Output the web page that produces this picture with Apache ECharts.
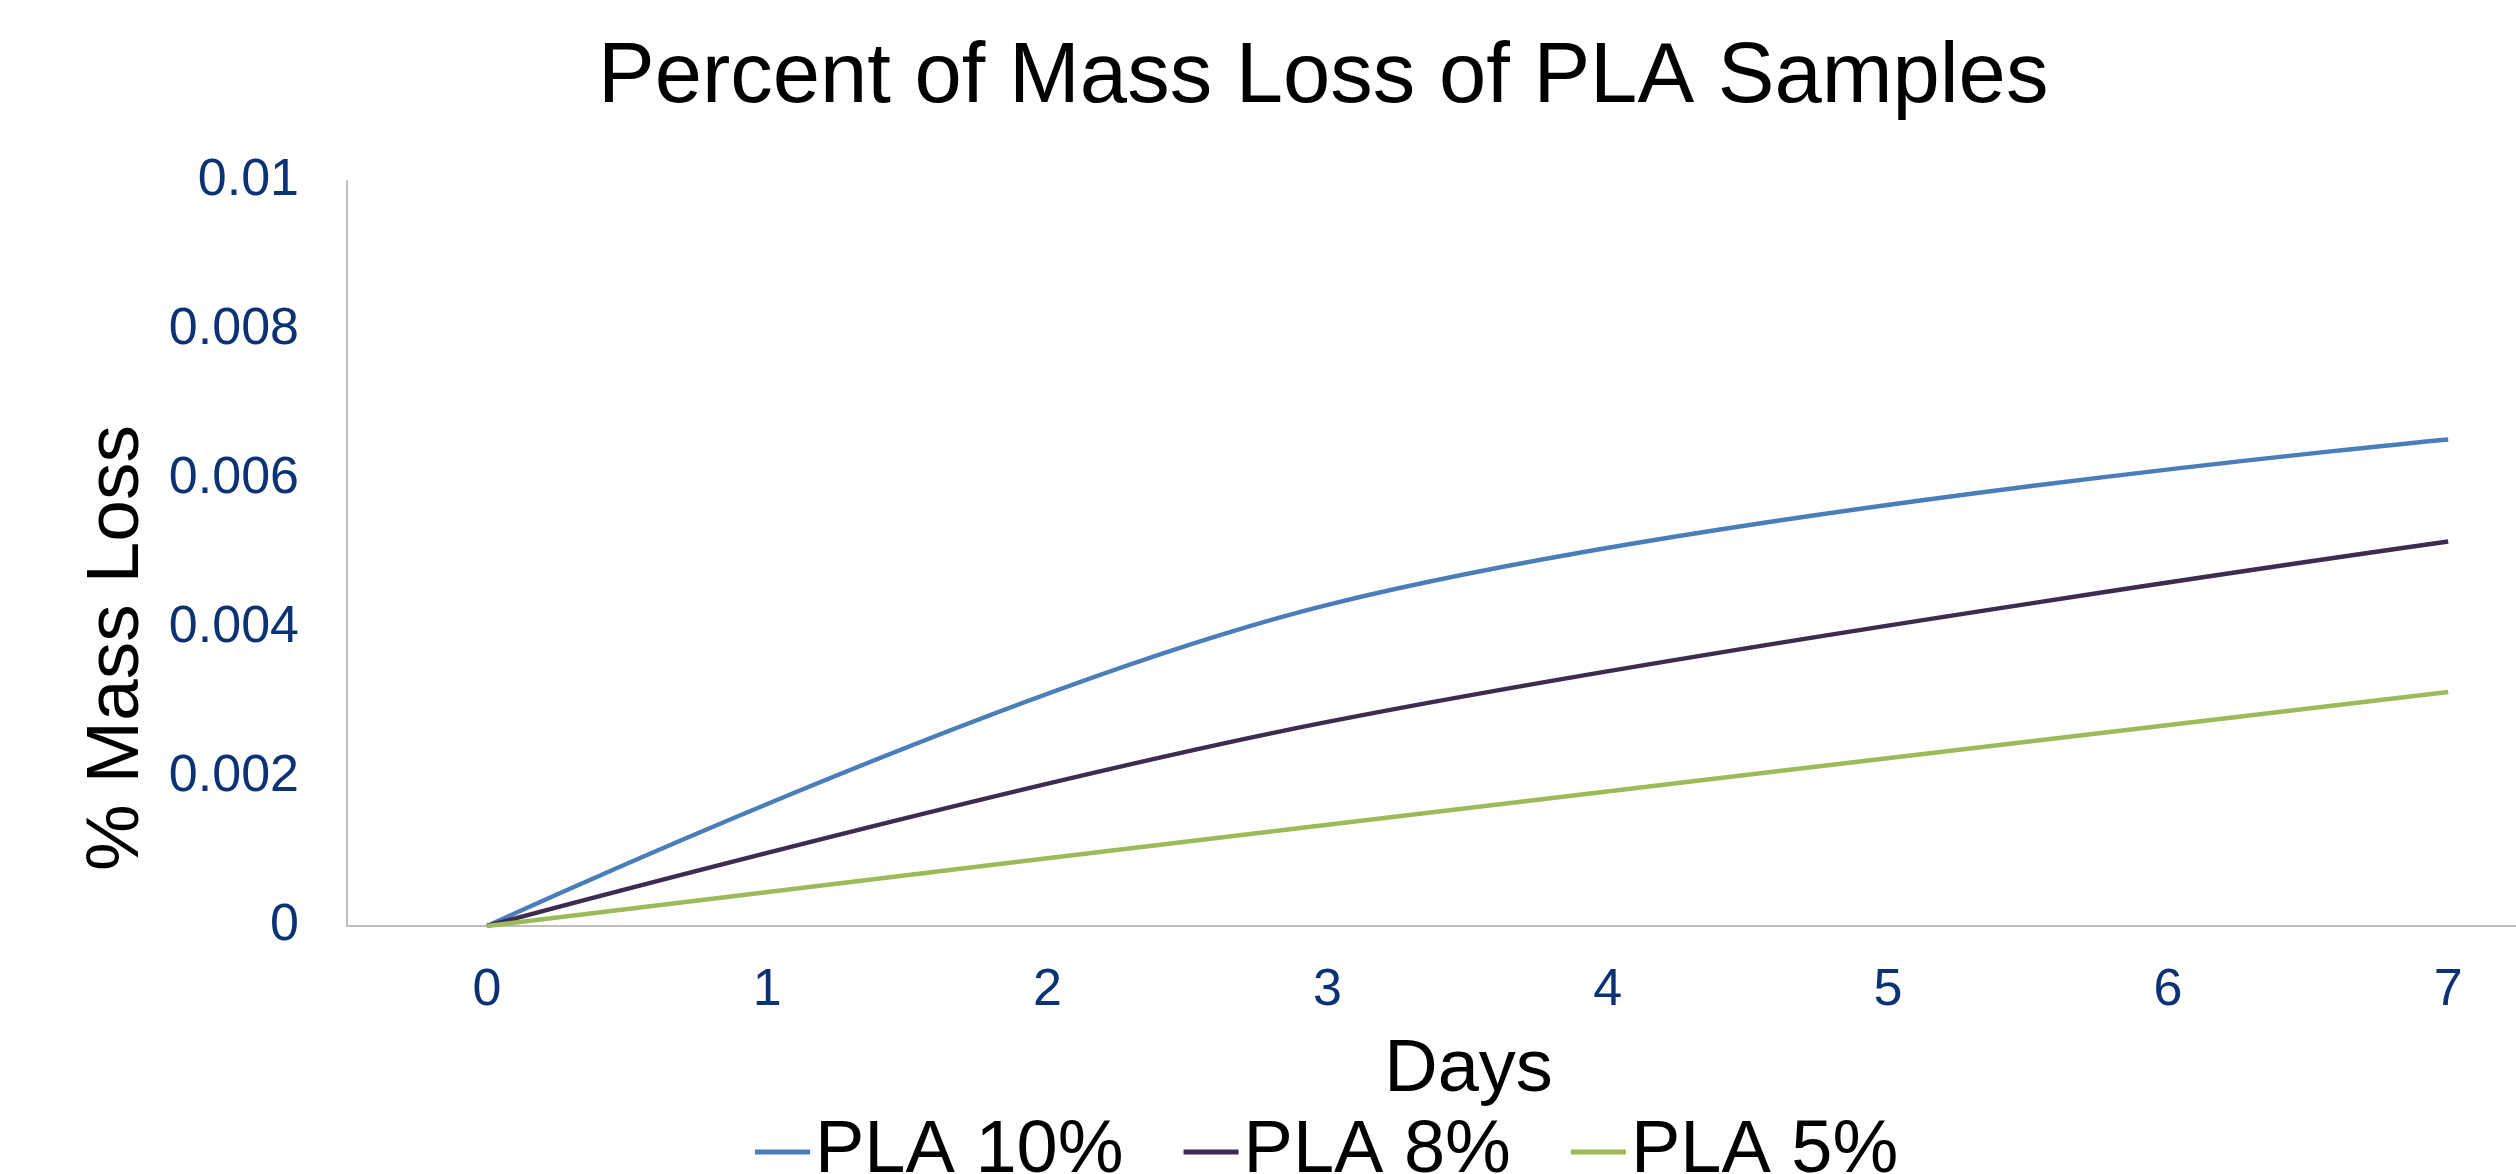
<!DOCTYPE html>
<html>
<head>
<meta charset="utf-8">
<script src="https://cdn.jsdelivr.net/npm/echarts@6/dist/echarts.min.js"></script>
<style>
html,body{margin:0;padding:0;background:#fff;}
#chart{width:2516px;height:1174px;}
</style>
</head>
<body>
<div id="chart"></div>
<script>
// Data
var days = [0, 3, 7];
var pla10 = [0, 0.00431, 0.00653];
var pla8 = [0, 0.00274, 0.00516];
var pla5 = [0, 0.00136, 0.00314];
var seriesNames = ['PLA 10%', 'PLA 8%', 'PLA 5%'];
var xTickLabels = [0, 1, 2, 3, 4, 5, 6, 7];
var yTicks = [0, 0.002, 0.004, 0.006, 0.008, 0.01];

function pairs(xs, ys) {
  return xs.map(function (x, i) { return [x, ys[i]]; });
}

var FONT = '"Liberation Sans", Arial, sans-serif';
var colors = ['#4A7EBB', '#3D2B52', '#9BBB59'];

var chart = echarts.init(document.getElementById('chart'));
chart.setOption({
  backgroundColor: '#ffffff',
  animation: false,
  title: {
    text: 'Percent of Mass Loss of PLA Samples',
    left: 598,
    top: 36,
    padding: 0,
    textStyle: { fontFamily: FONT, fontSize: 85, fontWeight: 'normal', color: '#000000' }
  },
  legend: {
    data: seriesNames,
    left: 755,
    top: 1115,
    padding: 0,
    itemGap: 60,
    itemWidth: 55,
    itemHeight: 5,
    icon: 'rect',
    textStyle: { fontFamily: FONT, fontSize: 74, color: '#000000' }
  },
  grid: { left: 347, right: 0, top: 181, bottom: 248, containLabel: false },
  xAxis: {
    type: 'value',
    min: -0.5,
    max: 7.242,
    name: 'Days',
    nameLocation: 'middle',
    nameGap: 108,
    nameTextStyle: { fontFamily: FONT, fontSize: 74, color: '#000000', padding: [0, 0, 0, 74] },
    axisLine: { show: true, onZero: false, lineStyle: { color: '#BFBFBF', width: 2 } },
    axisTick: { show: false },
    splitLine: { show: false },
    axisLabel: {
      customValues: xTickLabels,
      margin: 39,
      fontFamily: FONT, fontSize: 52, color: '#0B3275'
    }
  },
  yAxis: {
    type: 'value',
    min: 0,
    max: 0.01,
    interval: 0.002,
    name: '% Mass Loss',
    nameLocation: 'middle',
    nameGap: 192,
    nameRotate: 90,
    nameTextStyle: { fontFamily: FONT, fontSize: 75, color: '#000000', padding: [0, 189, 0, 0] },
    axisLine: { show: true, onZero: false, lineStyle: { color: '#BFBFBF', width: 2 } },
    axisTick: { show: false },
    splitLine: { show: false },
    axisLabel: {
      customValues: yTicks,
      margin: 48,
      fontFamily: FONT, fontSize: 52, color: '#0B3275',
      formatter: function (v) { return String(+v.toFixed(4)); }
    }
  },
  series: [
    { name: seriesNames[0], type: 'line', smooth: 0.36, showSymbol: false, data: pairs(days, pla10),
      itemStyle: { color: colors[0] }, lineStyle: { color: colors[0], width: 4.5 } },
    { name: seriesNames[1], type: 'line', smooth: 0.36, showSymbol: false, data: pairs(days, pla8),
      itemStyle: { color: colors[1] }, lineStyle: { color: colors[1], width: 4.5 } },
    { name: seriesNames[2], type: 'line', smooth: 0.36, showSymbol: false, data: pairs(days, pla5),
      itemStyle: { color: colors[2] }, lineStyle: { color: colors[2], width: 4.5 } }
  ]
});
</script>
</body>
</html>
